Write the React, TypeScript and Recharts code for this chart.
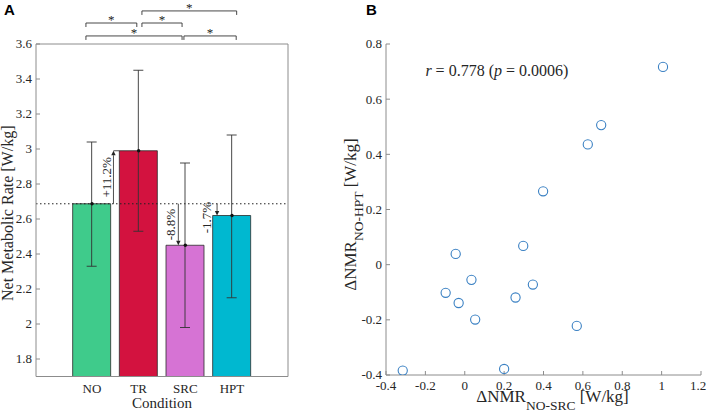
import React from 'react'
import {
  ComposedChart, ScatterChart, Bar, Scatter, XAxis, YAxis, ErrorBar,
  ReferenceLine, ReferenceDot, Cell,
} from 'recharts'

// panel A: net metabolic rate per condition (mean and SD range)
const conditions = ['NO', 'TR', 'SRC', 'HPT']
const meanNmr = [2.687, 2.99, 2.45, 2.62]
const sdLow = [2.33, 2.53, 1.98, 2.15]
const sdHigh = [3.04, 3.45, 2.92, 3.08]
const changeVsNo = ['', '+11.2%', '-8.8%', '-1.7%']
const sigPairs: [string, string][] = [['NO', 'SRC'], ['SRC', 'HPT'], ['NO', 'TR'], ['TR', 'SRC'], ['TR', 'HPT']]
const nmrTicks = [1.8, 2, 2.2, 2.4, 2.6, 2.8, 3, 3.2, 3.4, 3.6]

// panel B: per-subject differences
const dNoSrc = [-0.315, -0.046, -0.097, -0.031, 0.034, 0.053, 0.2, 0.258, 0.297, 0.346, 0.569, 0.398, 0.625, 0.693, 1.007]
const dNoHpt = [-0.384, 0.039, -0.102, -0.139, -0.055, -0.199, -0.378, -0.119, 0.068, -0.072, -0.222, 0.266, 0.436, 0.506, 0.717]
const dxTicks = [-0.4, -0.2, 0, 0.2, 0.4, 0.6, 0.8, 1, 1.2]
const dyTicks = [-0.4, -0.2, 0, 0.2, 0.4, 0.6, 0.8]
const rValue = '0.778'
const pValue = '0.0006'

const barColors = ['#3fcb8b', '#d3123f', '#d673d4', '#00b8d0']
const serif = '"Liberation Serif", "Times New Roman", serif'
const ink = '#262626'
const axisGray = '#8c8c8c'

const fmt = (v: number) => String(Number(v.toFixed(1)))

const barData = conditions.map((c, i) => ({
  x: i + 1,
  name: c,
  mean: meanNmr[i],
  err: [meanNmr[i] - sdLow[i], sdHigh[i] - meanNmr[i]],
}))
const scatterData = dNoSrc.map((x, i) => ({ x, y: dNoHpt[i] }))

// annotation placement (in axis units / px nudges)
const arrowShift: Record<string, { dx: number; gap: number; dy: number }> = {
  TR: { dx: -0.54, gap: 2, dy: 0 },
  SRC: { dx: -0.15, gap: 3, dy: 0 },
  HPT: { dx: -0.32, gap: 6, dy: 8 },
}
const bracketGeom: Record<string, { a: number; b: number; y: number }> = {
  'NO-SRC': { a: -0.13, b: -0.07, y: 3.646 },
  'SRC-HPT': { a: -0.03, b: 0.09, y: 3.646 },
  'NO-TR': { a: -0.13, b: -0.04, y: 3.72 },
  'TR-SRC': { a: 0.07, b: -0.07, y: 3.72 },
  'TR-HPT': { a: 0.07, b: 0.1, y: 3.789 },
}

function XTitle({ viewBox, dx = 0, dy = 0, size = 15, children }: any) {
  const x = viewBox.x + viewBox.width / 2 + dx
  const y = viewBox.y + dy
  return <text x={x} y={y} textAnchor="middle" fontFamily={serif} fontSize={size} fill={ink}>{children}</text>
}

function YTitle({ viewBox, dx = 0, dy = 0, size = 16, children }: any) {
  const x = viewBox.x + dx
  const y = viewBox.y + viewBox.height / 2 + dy
  return (
    <text x={x} y={y} transform={`rotate(-90 ${x} ${y})`} textAnchor="middle" fontFamily={serif} fontSize={size} fill={ink}>
      {children}
    </text>
  )
}

function SerifTick({ x, y, payload, textAnchor, vertical, format }: any) {
  return (
    <text x={x} y={y} dy={vertical ? '0.34em' : '0.72em'} textAnchor={textAnchor} fontFamily={serif} fontSize={13} fill={ink}>
      {format(payload.value)}
    </text>
  )
}

const MeanDot = (p: any) => <circle cx={p.cx} cy={p.cy} r={1.7} fill="#111" />

const OpenCircle = (p: any) => <circle cx={p.cx} cy={p.cy} r={4.6} fill="none" stroke="#3a80c3" strokeWidth={1.1} />

function ChangeArrow({ x1, y1, x2, y2, text, tail, gap, shift }: any) {
  const dir = y2 > y1 ? 1 : -1
  const head = 4.5
  const tx = x1 - gap
  const ty = (y1 + y2) / 2 + shift
  return (
    <g>
      <line x1={x1} y1={y1} x2={x2} y2={y2 - dir * head} stroke="#222" strokeWidth={0.8} />
      <polygon points={`${x2},${y2} ${x2 - 2.2},${y2 - dir * head} ${x2 + 2.2},${y2 - dir * head}`} fill="#222" />
      {tail > 0 && <line x1={x2} y1={y2} x2={x2 + tail} y2={y2} stroke="#222" strokeWidth={0.8} />}
      <text x={tx} y={ty} transform={`rotate(-90 ${tx} ${ty})`} textAnchor="middle" fontFamily={serif} fontSize={13} fill={ink}>
        {text}
      </text>
    </g>
  )
}

function Bracket({ x1, y1, x2 }: any) {
  return (
    <g>
      <path d={`M${x1},${y1 + 4} V${y1} H${x2} V${y1 + 4}`} fill="none" stroke="#333" strokeWidth={0.9} />
      <text x={(x1 + x2) / 2} y={y1 + 1} textAnchor="middle" fontFamily={serif} fontSize={13} fill="#222">*</text>
    </g>
  )
}

const CorrText = (p: any) => (
  <text x={p.cx} y={p.cy} fontFamily={serif} fontSize={16} fill={ink}>
    <tspan fontStyle="italic">r</tspan> = {rValue} (<tspan fontStyle="italic">p</tspan> = {pValue})
  </text>
)

export default function App() {
  return (
    <div style={{ position: 'absolute', left: 0, top: 0, width: 708, height: 415, background: '#fff' }}>
      <div style={{ position: 'absolute', left: 4, top: 1, fontFamily: '"Liberation Sans", Arial, sans-serif', fontWeight: 700, fontSize: 15 }}>A</div>
      <div style={{ position: 'absolute', left: 366, top: 1, fontFamily: '"Liberation Sans", Arial, sans-serif', fontWeight: 700, fontSize: 15 }}>B</div>

      <div style={{ position: 'absolute', left: 0, top: 0 }}>
        <ComposedChart width={300} height={415} data={barData} margin={{ top: 44, right: 11, bottom: 0, left: 0 }}>
          <XAxis
            type="number" dataKey="x" domain={[-0.2, 5.2]} ticks={[1, 2, 3, 4]} allowDataOverflow height={38.5}
            axisLine={{ stroke: axisGray }} tickLine={false} tickSize={-4} tickMargin={11}
            tick={<SerifTick format={(v: number) => conditions[v - 1]} />}
            label={{ content: (p: any) => <XTitle viewBox={p.viewBox} dy={31.5}>Condition</XTitle> }}
          />
          <YAxis
            domain={[1.7, 3.6]} ticks={nmrTicks} allowDataOverflow width={36}
            axisLine={{ stroke: axisGray }} tickLine={{ stroke: axisGray }} tickSize={-4} tickMargin={8}
            tick={<SerifTick vertical format={fmt} />}
            label={{ content: (p: any) => <YTitle viewBox={p.viewBox} dx={13} dy={3}>Net Metabolic Rate [W/kg]</YTitle> }}
          />
          <YAxis
            yAxisId="r" orientation="right" domain={[1.7, 3.6]} ticks={nmrTicks} allowDataOverflow width={1}
            tick={false} axisLine={{ stroke: axisGray }} tickLine={{ stroke: axisGray }} tickSize={-4}
          />
          <ReferenceLine y={meanNmr[0]} stroke="#222" strokeDasharray="1.5 2.5" />
          <Bar dataKey="mean" barSize={38} stroke="#2b2b2b" strokeWidth={0.8} isAnimationActive={false}>
            {barData.map((d, i) => <Cell key={d.name} fill={barColors[i]} />)}
            <ErrorBar dataKey="err" width={5} stroke="#333" strokeWidth={0.9} direction="y" isAnimationActive={false} />
          </Bar>
          <Scatter dataKey="mean" shape={MeanDot} isAnimationActive={false} />
          <ReferenceLine y={3.6} stroke={axisGray} />
          {conditions.slice(1).map((c, k) => {
            const i = k + 1
            const s = arrowShift[c]
            const x = i + 1 + s.dx
            return (
              <ReferenceLine
                key={c}
                segment={[{ x, y: meanNmr[0] }, { x, y: meanNmr[i] }]}
                shape={(p: any) => <ChangeArrow {...p} text={changeVsNo[i]} tail={c === 'TR' ? 6 : 0} gap={s.gap} shift={s.dy} />}
              />
            )
          })}
          {sigPairs.map(([a, b]) => {
            const g = bracketGeom[`${a}-${b}`]
            const xa = conditions.indexOf(a) + 1 + g.a
            const xb = conditions.indexOf(b) + 1 + g.b
            return (
              <ReferenceLine
                key={`${a}-${b}`}
                ifOverflow="visible"
                segment={[{ x: xa, y: g.y }, { x: xb, y: g.y }]}
                shape={(p: any) => <Bracket {...p} />}
              />
            )
          })}
        </ComposedChart>
      </div>

      <div style={{ position: 'absolute', left: 336, top: 0 }}>
        <ScatterChart width={372} height={415} margin={{ top: 44, right: 7, bottom: 0, left: 14 }}>
          <XAxis
            type="number" dataKey="x" domain={[-0.4, 1.2]} ticks={dxTicks} allowDataOverflow height={40}
            axisLine={{ stroke: axisGray }} tickLine={{ stroke: axisGray }} tickSize={-4} tickMargin={10}
            tick={<SerifTick format={fmt} />}
            label={{
              content: (p: any) => (
                <XTitle viewBox={p.viewBox} dx={9} dy={27} size={17}>
                  ΔNMR<tspan dy={8} fontSize={13.5}>NO-SRC</tspan><tspan dy={-8}> [W/kg]</tspan>
                </XTitle>
              ),
            }}
          />
          <YAxis
            type="number" dataKey="y" domain={[-0.4, 0.8]} ticks={dyTicks} allowDataOverflow width={36}
            axisLine={{ stroke: axisGray }} tickLine={{ stroke: axisGray }} tickSize={-4} tickMargin={8}
            tick={<SerifTick vertical format={fmt} />}
            label={{
              content: (p: any) => (
                <YTitle viewBox={p.viewBox} dx={6} dy={5} size={17}>
                  ΔNMR<tspan dy={7} fontSize={13.5}>NO-HPT</tspan><tspan dy={-7}> [W/kg]</tspan>
                </YTitle>
              ),
            }}
          />
          <ReferenceDot x={-0.2} y={0.684} r={0} ifOverflow="visible" shape={CorrText} />
          <Scatter data={scatterData} shape={OpenCircle} isAnimationActive={false} />
        </ScatterChart>
      </div>
    </div>
  )
}
